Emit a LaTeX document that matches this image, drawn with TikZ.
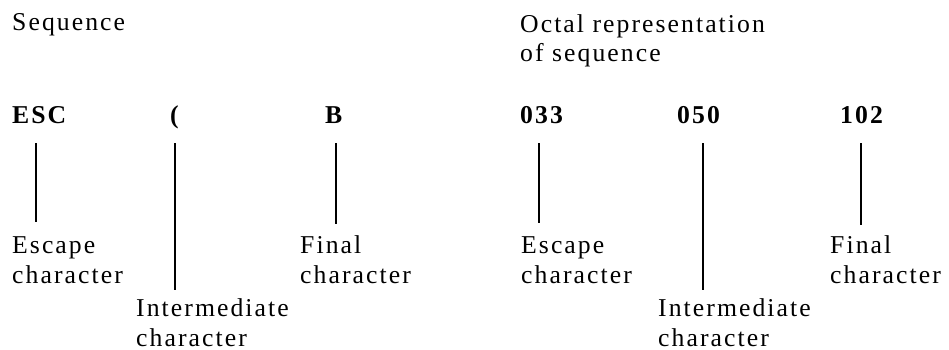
\documentclass[tikz,border=0pt]{standalone}
\usepackage{fontspec}
\setmainfont{Liberation Serif}[LetterSpace=8]
\begin{document}
\begin{tikzpicture}[x=1pt,y=1pt,
  lbl/.style={anchor=base west,inner sep=0pt,font=\fontsize{25.7}{29.5}\selectfont,align=left},
  code/.style={anchor=base west,inner sep=0pt,font=\fontsize{25.7}{29.5}\selectfont\bfseries},
  tick/.style={line width=2pt}]
\useasboundingbox (0,0) rectangle (949,-350);
% headings (multi-line nodes are placed by their last baseline)
\node[lbl] (seq) at (12,-31) {Sequence};
\node[lbl] (oct) at (520,-62) {Octal representation\\of sequence};
% top codes
\node[code] (esc) at (12,-123) {ESC};
\node[code] (par) at (170,-123) {(};
\node[code] (bb)  at (325,-123) {B};
\node[code] (o33) at (520,-123) {033};
\node[code] (o50) at (677,-123) {050};
\node[code] (o102) at (840,-123) {102};
% bottom labels
\node[lbl] (escL) at (12,-283) {Escape\\character};
\node[lbl] (parL) at (136,-346) {Intermediate\\character};
\node[lbl] (bL)   at (300,-283) {Final\\character};
\node[lbl] (o33L) at (521,-283) {Escape\\character};
\node[lbl] (o50L) at (658,-346) {Intermediate\\character};
\node[lbl] (o102L) at (830,-283) {Final\\character};
% connector ends
\coordinate (a1) at (36,-143);  \coordinate (b1) at (36,-222);
\coordinate (a2) at (175,-143); \coordinate (b2) at (175,-290);
\coordinate (a3) at (336,-143); \coordinate (b3) at (336,-224);
\coordinate (a4) at (539,-143); \coordinate (b4) at (539,-223);
\coordinate (a5) at (703,-143); \coordinate (b5) at (703,-290);
\coordinate (a6) at (861,-143); \coordinate (b6) at (861,-225);
\draw[tick] (a1) -- (b1);
\draw[tick] (a2) -- (b2);
\draw[tick] (a3) -- (b3);
\draw[tick] (a4) -- (b4);
\draw[tick] (a5) -- (b5);
\draw[tick] (a6) -- (b6);
\end{tikzpicture}
\end{document}
